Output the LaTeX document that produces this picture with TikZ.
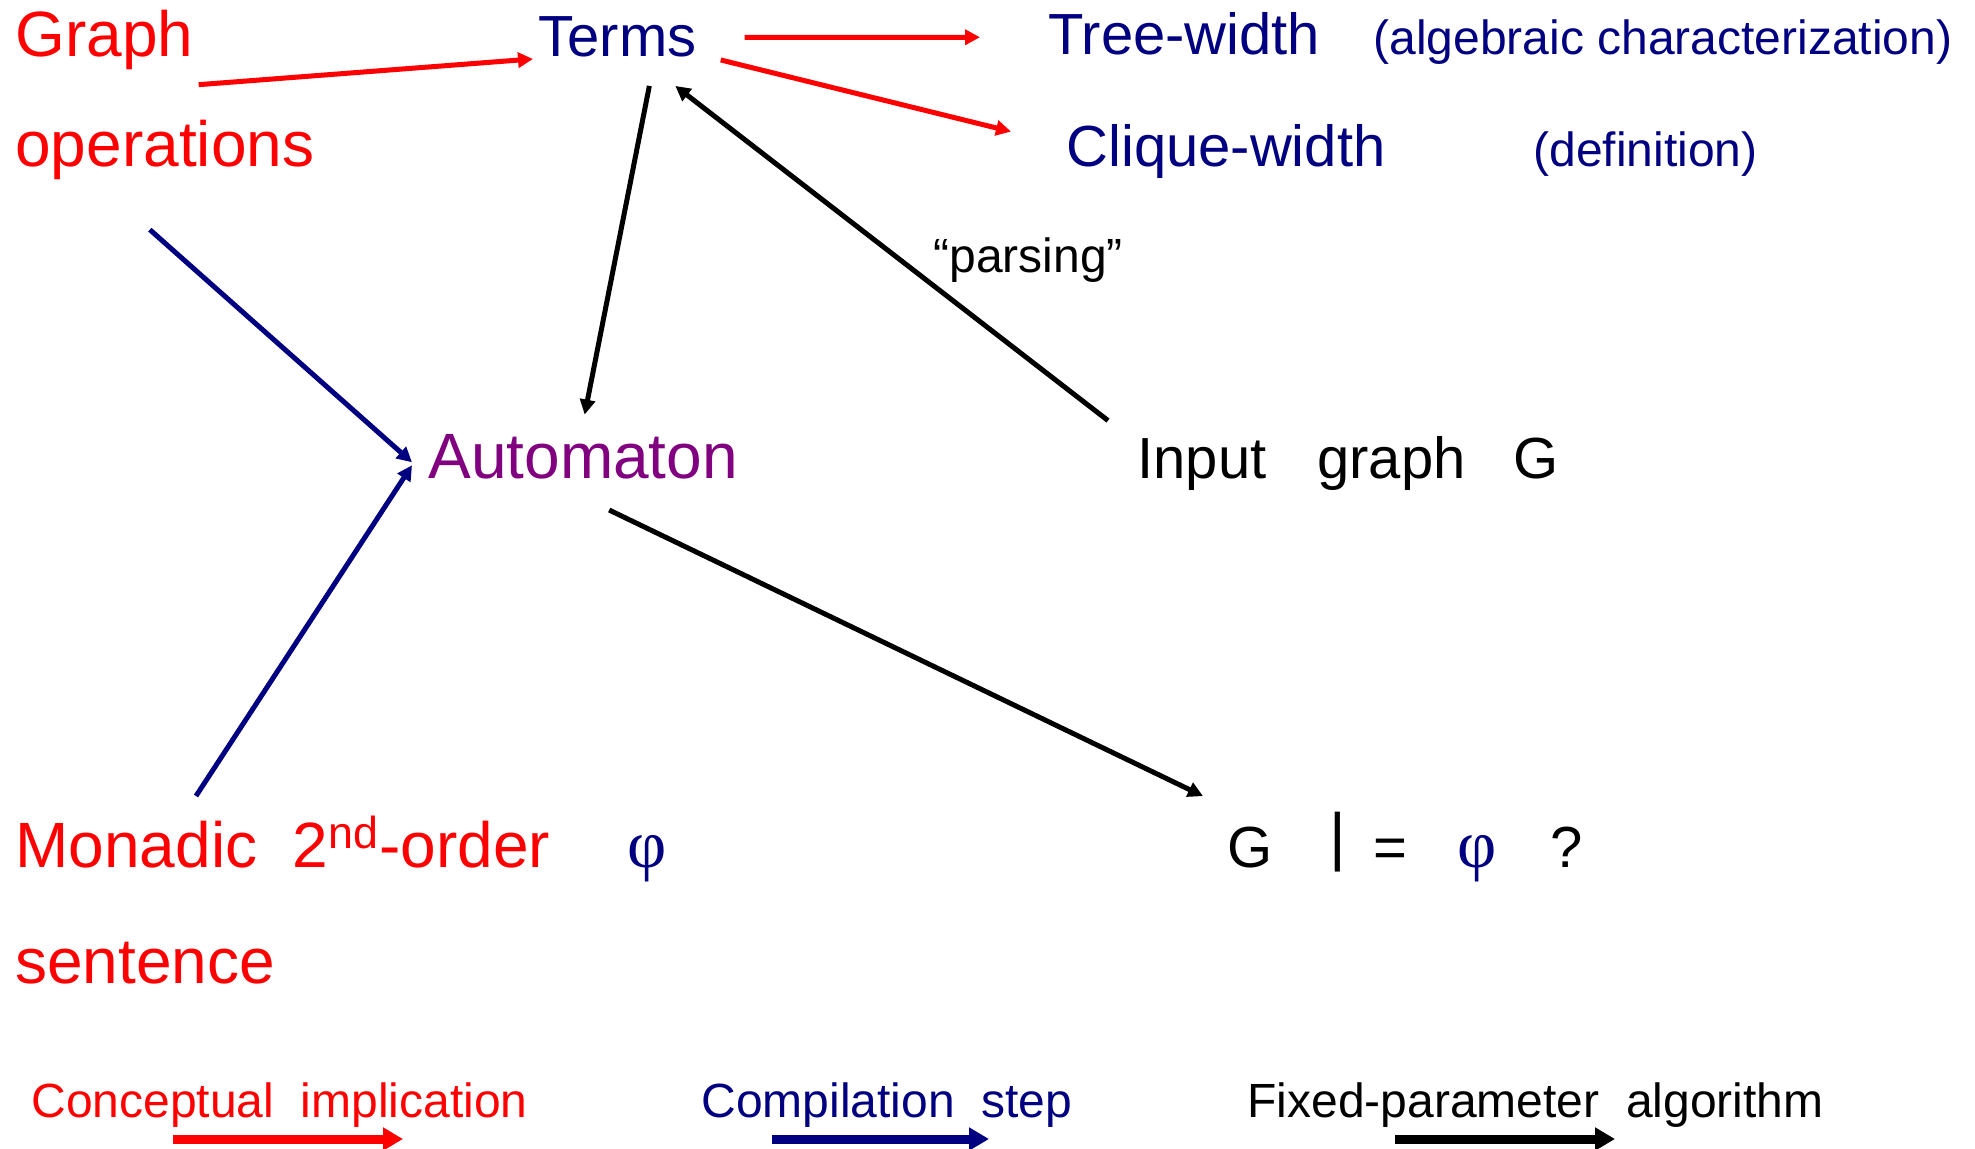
\documentclass[tikz,border=0pt]{standalone}
\usepackage{fontspec}
\setmainfont{Liberation Sans}
\newfontfamily\phifont{Liberation Serif}
\usetikzlibrary{arrows.meta}
\definecolor{navyblue}{RGB}{0,0,128}
\definecolor{darkviolet}{RGB}{128,0,128}
\begin{document}
\begin{tikzpicture}[x=0.5pt,y=-0.5pt,
    txt/.style={inner sep=0pt,anchor=base west},
    big/.style={txt,font=\fontsize{32}{38}\selectfont},
    mid/.style={txt,font=\fontsize{29}{35}\selectfont},
    small/.style={txt,font=\fontsize{24}{29}\selectfont},
    phi/.style={txt,font=\fontsize{34}{38}\selectfont\phifont,navyblue},
    imp/.style={red,line width=2.5pt,-{Triangle[length=7.5pt,width=7.5pt]}},
    comp/.style={navyblue,line width=2.5pt,-{Triangle[length=7.5pt,width=7.5pt]}},
    fpt/.style={black,line width=2.5pt,-{Triangle[length=7.5pt,width=7.5pt]}},
    key/.style={line width=4.5pt,-{Triangle[length=10pt,width=11pt]}}]
        \useasboundingbox (0,0) rectangle (1975,1149);
        %% Graph operations
        \node[big,red] (graph) at (15,57) {Graph};
        \node[big,red] (ops) at (15,167) {operations};
        %% Terms and widths
        \node[mid,navyblue] (terms) at (538,57) {Terms};
        \node[mid,navyblue] (tw) at (1048,55) {Tree-width};
        \node[small,navyblue] (twnote) at (1373,55) {(algebraic characterization)};
        \node[mid,navyblue] (cw) at (1066,167) {Clique-width};
        \node[small,navyblue] (cwnote) at (1533,167) {(definition)};
        \node[small] (parsing) at (933,273) {“parsing”};
        %% Automaton and input
        \node[big,darkviolet] (auto) at (428,479) {Automaton};
        \node[mid] (input) at (1137,479) {Input\hspace{25.5pt}graph\hspace{24pt}G};
        %% MSO sentence
        \node[big,red] (mso) at (15,867) {Monadic\ \ 2\textsuperscript{nd}-order};
        \node[phi] (phia) at (627,867) {φ};
        \node[big,red] (sent) at (15,983) {sentence};
        %% G |= phi ?
        \node[mid] (g) at (1227,867) {G};
        \node[big] (bar) at (1329,858) {|};
        \node[mid] (eq) at (1373,867) {=};
        \node[phi] (phib) at (1457,867) {φ};
        \node[mid] (qm) at (1550,867) {?};
        %% arrows
        \draw[imp] ([shift={(5,14)}]graph.south east) -- ([shift={(-5,1)}]terms.south west);
        \draw[imp] ([shift={(48,0)}]terms.east) -- ([shift={(-68,3)}]tw.west);
        \draw[imp] ([shift={(24,2)}]terms.south east) -- ([shift={(-55,7)}]cw.north west);
        \draw[comp] ([shift={(-15,49)}]ops.south) -- ([shift={(-16,5)}]auto.west);
        \draw[comp] ([shift={(181,-71)}]mso.base west) -- ([shift={(-16,8)}]auto.west);
        \draw[fpt] ([shift={(32,28)}]terms.south) -- ([shift={(1.5,-20)}]auto.north);
        \draw[fpt] ([shift={(-29,-16)}]input.north west) -- ([shift={(58,28)}]terms.south);
        \draw[fpt] ([shift={(26,30)}]auto.south) -- ([shift={(-24,-30)}]g.north west);
        %% legend
        \node[small,red] (key1) at (31,1117) {Conceptual\ \ implication};
        \node[small,navyblue] (key2) at (701,1117) {Compilation\ \ step};
        \node[small] (key3) at (1247,1117) {Fixed-parameter\ \ algorithm};
        \draw[key,red] ([shift={(142,22)}]key1.base west) -- ++(230,0);
        \draw[key,navyblue] ([shift={(71,22)}]key2.base west) -- ++(217,0);
        \draw[key,black] ([shift={(148,22)}]key3.base west) -- ++(220,0);
    \end{tikzpicture}
\end{document}
